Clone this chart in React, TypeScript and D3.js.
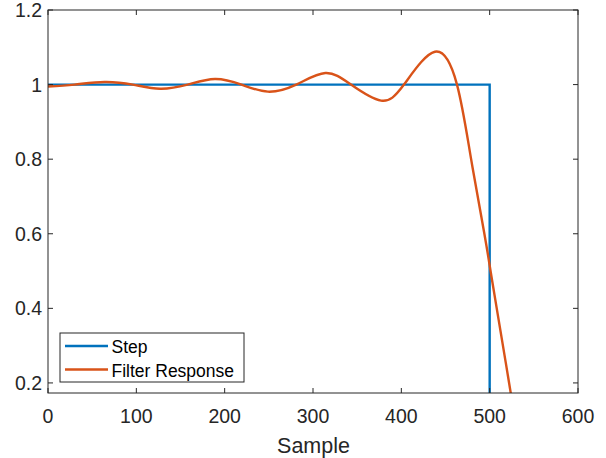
import React from "react";
import * as d3 from "d3";

const xTicks = [0, 100, 200, 300, 400, 500, 600];
const yTicks = [0.2, 0.4, 0.6, 0.8, 1, 1.2];

const stepSamples = [0, 500, 500, 600];
const stepValues = [1, 1, 0, 0];

const filterSamples = [0, 30, 64, 96, 127, 158, 189, 219, 249, 281, 314, 343, 377, 403, 438, 463, 479, 494, 501, 508, 522, 535];
const filterValues = [0.995, 1.0, 1.007, 1.0, 0.989, 1.0, 1.015, 1.0, 0.981, 1.0, 1.031, 1.0, 0.957, 1.0, 1.088, 1.0, 0.8, 0.6, 0.5, 0.4, 0.2, 0.01];

const legendLabels = ["Step", "Filter Response"];
const colors = ["#0072BD", "#D95319"];

export default function App() {
  const W = 606, H = 458;
  const L = 48, R = 578, T = 10, B = 393;
  const x = d3.scaleLinear().domain([0, 600]).range([L, R]);
  const y = d3.scaleLinear().domain([0.173, 1.2]).range([B, T]);
  const stepPath = d3.line<[number, number]>().x(d => x(d[0])).y(d => y(d[1]))(
    stepSamples.map((s, i) => [s, stepValues[i]] as [number, number])
  );
  const filterPath = d3.line<[number, number]>().x(d => x(d[0])).y(d => y(d[1])).curve(d3.curveNatural)(
    filterSamples.map((s, i) => [s, filterValues[i]] as [number, number])
  );
  const font = "Arial, 'Liberation Sans', Helvetica, sans-serif";
  const axisColor = "#262626";
  return (
    <svg width={W} height={H} style={{ position: "absolute", left: 0, top: 0, background: "#fff" }} fontFamily={font}>
      <defs>
        <clipPath id="clip">
          <rect x={L} y={T} width={R - L} height={B - T} />
        </clipPath>
      </defs>
      <rect x={0} y={0} width={W} height={H} fill="#fff" />
      <g clipPath="url(#clip)">
        <path d={stepPath || ""} fill="none" stroke={colors[0]} strokeWidth={2.4} />
        <path d={filterPath || ""} fill="none" stroke={colors[1]} strokeWidth={2.4} />
      </g>
      <rect x={L} y={T} width={R - L} height={B - T} fill="none" stroke={axisColor} strokeWidth={1} />
      {xTicks.map(t => (
        <g key={"x" + t}>
          <line x1={x(t)} x2={x(t)} y1={B} y2={B - 5} stroke={axisColor} />
          <line x1={x(t)} x2={x(t)} y1={T} y2={T + 5} stroke={axisColor} />
          <text x={x(t)} y={423} textAnchor="middle" fontSize={19.5} fill={axisColor}>{t}</text>
        </g>
      ))}
      {yTicks.map(t => (
        <g key={"y" + t}>
          <line x1={L} x2={L + 5} y1={y(t)} y2={y(t)} stroke={axisColor} />
          <line x1={R} x2={R - 5} y1={y(t)} y2={y(t)} stroke={axisColor} />
          <text x={42} y={y(t) + 7} textAnchor="end" fontSize={19.5} fill={axisColor}>{t === 1 ? "1" : t.toString()}</text>
        </g>
      ))}
      <text x={313.5} y={453} textAnchor="middle" fontSize={21.5} fill={axisColor}>Sample</text>
      <g>
        <rect x={60} y={333} width={184} height={49} fill="#fff" stroke={axisColor} strokeWidth={1} />
        {legendLabels.map((lab, i) => (
          <g key={lab}>
            <line x1={65} x2={108} y1={346 + i * 23.5} y2={346 + i * 23.5} stroke={colors[i]} strokeWidth={2.4} />
            <text x={111.5} y={353 + i * 24.4} fontSize={17.5} fill="#000">{lab}</text>
          </g>
        ))}
      </g>
    </svg>
  );
}
